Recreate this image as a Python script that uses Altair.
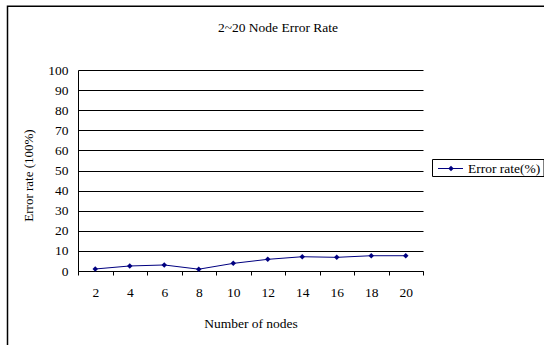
import altair as alt
import pandas as pd

nodes = [2, 4, 6, 8, 10, 12, 14, 16, 18, 20]
error_rate = [1.0, 2.5, 3.0, 0.9, 3.8, 5.8, 7.1, 6.8, 7.6, 7.6]
series_name = ["Error rate(%)"]
chart_title = ["2~20 Node Error Rate"]
y_ticks = [0, 10, 20, 30, 40, 50, 60, 70, 80, 90, 100]

FONT = "Liberation Serif"
NAVY = "#000080"

df = pd.DataFrame({"nodes": nodes, "rate": error_rate})

base = alt.Chart(df).encode(
    x=alt.X(
        "nodes:O",
        bandPosition=0.5,
        scale=alt.Scale(type="band", paddingInner=0, paddingOuter=0),
        axis=alt.Axis(
            title="Number of nodes",
            labelAngle=0,
            tickBand="extent",
            tickSize=4,
            tickColor="black",
            domainColor="black",
            labelFont=FONT,
            labelFontSize=13.5,
            labelColor="black",
            labelPadding=10,
            titleFont=FONT,
            titleFontSize=13.5,
            titleFontWeight="normal",
            titleColor="black",
            titleY=52,
            titleBaseline="middle",
            grid=False,
        ),
    ),
    y=alt.Y(
        "rate:Q",
        scale=alt.Scale(domain=[0, 100]),
        axis=alt.Axis(
            title="Error rate (100%)",
            values=y_ticks,
            ticks=False,
            domainColor="black",
            gridColor="black",
            gridWidth=1,
            gridOpacity=1,
            labelFont=FONT,
            labelFontSize=13.5,
            labelColor="black",
            labelPadding=10,
            titleFont=FONT,
            titleFontSize=13,
            titleFontWeight="normal",
            titleColor="black",
            titleX=-50,
            titleY=105,
            titleAngle=-90,
            titleBaseline="middle",
        ),
    ),
)

line = base.mark_line(color=NAVY, strokeWidth=1)
pts = base.mark_point(shape="diamond", filled=True, color=NAVY, size=30, opacity=1)

one = pd.DataFrame({"t": chart_title, "s": series_name})

title = alt.Chart(one).mark_text(
    font=FONT, fontSize=13.5, color="black", baseline="middle", align="center"
).encode(x=alt.value(200), y=alt.value(-42), text="t:N")

frame = alt.Chart(one).mark_rect(
    fill=None, fillOpacity=0, stroke="black", strokeWidth=1.5
).encode(x=alt.value(-70.5), y=alt.value(-63.8), x2=alt.value(700), y2=alt.value(500))

leg_box = alt.Chart(one).mark_rect(
    fill="white", stroke="black", strokeWidth=1
).encode(x=alt.value(354.5), x2=alt.value(466), y=alt.value(89.5), y2=alt.value(106.5))
leg_line = alt.Chart(one).mark_rule(color=NAVY, strokeWidth=1).encode(
    x=alt.value(360), x2=alt.value(385), y=alt.value(98.5)
)
leg_pt = alt.Chart(one).mark_point(
    shape="diamond", filled=True, color=NAVY, size=30, opacity=1
).encode(x=alt.value(373), y=alt.value(98.5))
leg_txt = alt.Chart(one).mark_text(
    font=FONT, fontSize=13.5, color="black", baseline="middle", align="left"
).encode(x=alt.value(390), y=alt.value(98.5), text="s:N")

chart = (
    alt.layer(frame, line, pts, title, leg_box, leg_line, leg_pt, leg_txt)
    .properties(
        width=345,
        height=201,
        padding={"left": 78, "top": 70, "right": 121, "bottom": 74},
        autosize=alt.AutoSizeParams(type="none"),
        background="white",
    )
    .configure_view(stroke=None)
)

chart.save("out.html", embed_options={"renderer": "svg", "actions": False})
